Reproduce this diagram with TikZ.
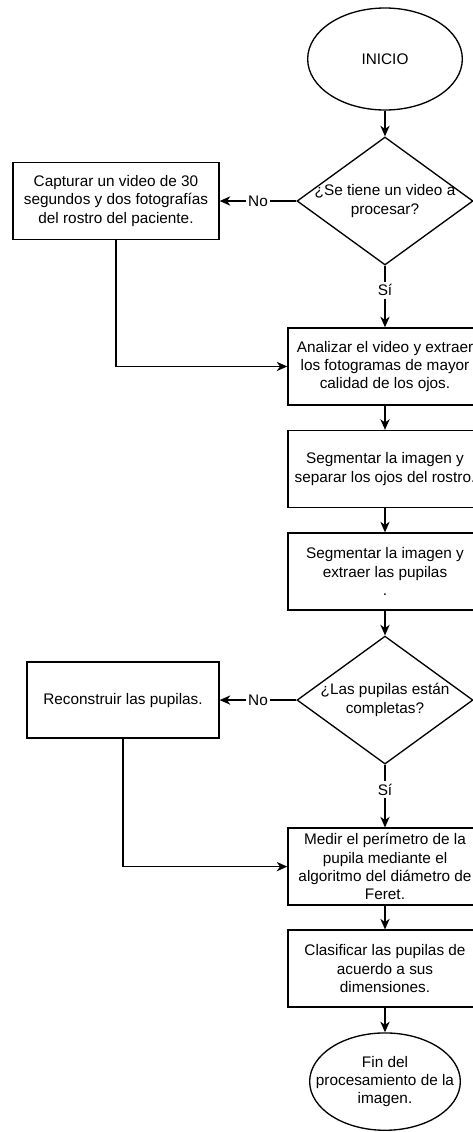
\documentclass[tikz,border=0pt]{standalone}
\usepackage{fontspec}
\setmainfont{Liberation Sans}
\usetikzlibrary{shapes.geometric,arrows.meta,positioning}
\tikzset{
>={Stealth[length=8pt,width=7pt,inset=2.5pt]}, % filled arrow heads
every node/.style={font=\fontsize{11.5pt}{13.7pt}\selectfont, align=center},
terminal/.style={ellipse, draw, inner sep=-12pt, minimum width=116pt, minimum height=76.5pt},
process/.style={rectangle, draw, inner sep=0pt, minimum width=145.5pt, minimum height=57.75pt},
decision/.style={diamond, draw, aspect=1.375, inner sep=-5pt, minimum width=132pt, minimum height=96pt},
answer/.style={fill=white, inner sep=2pt},
}

\begin{document}
\begin{tikzpicture}[line width=1pt,on grid]
   \useasboundingbox (-288.75pt,44.25pt) rectangle (65.25pt,-804.75pt);
   \node[terminal] (n_0) {INICIO};
   \node[decision] (n_1) [below=106.5pt of n_0] {¿Se tiene un video a\\procesar?};
   \node[process] (n_2) [below=124.1pt of n_1] {Analizar el video y extraer\\los fotogramas de mayor\\calidad de los ojos.};
   \node[process] (n_3) [below=76.9pt of n_2] {Segmentar la imagen y\\separar los ojos del rostro.};
   \node[process] (n_4) [below=76.9pt of n_3] {Segmentar la imagen y\\extraer las pupilas\\.};
   \node[decision] (n_5) [below=96.4pt of n_4] {¿Las pupilas están\\completas?};
   \node[process] (n_6) [below=124.9pt of n_5] {Medir el perímetro de la\\pupila mediante el\\algoritmo del diámetro de\\Feret.};
   \node[process] (n_7) [below=76.5pt of n_6] {Clasificar las pupilas de\\acuerdo a sus\\dimensiones.};
   \node[terminal, minimum width=113pt, minimum height=73pt] (n_8) [below=84.75pt of n_7] {Fin del\\procesamiento de la\\imagen.};
   \node[process, minimum width=154.5pt] (l_1) [left=201.75pt of n_1] {Capturar un video de 30\\segundos y dos fotografías\\del rostro del paciente.};
   \node[process, minimum width=144pt, minimum height=57pt] (l_2) [left=196.5pt of n_5] {Reconstruir las pupilas.};
    \path[->]
    (n_0) edge (n_1)
    (n_1) edge node[answer] {No} (l_1)
    (n_1) edge node[answer, pos=0.4] {Sí} (n_2)
    (n_2) edge (n_3)
    (n_3) edge (n_4)
    (n_4) edge (n_5)
    (n_5) edge node[answer] {No} (l_2)
    (n_5) edge node[answer, pos=0.4] {Sí} (n_6)
    (n_6) edge (n_7)
    (n_7) edge (n_8);
    \draw[->] (l_1) |- (n_2);
    \draw[->] (l_2) |- (n_6);
\end{tikzpicture}
\end{document}
